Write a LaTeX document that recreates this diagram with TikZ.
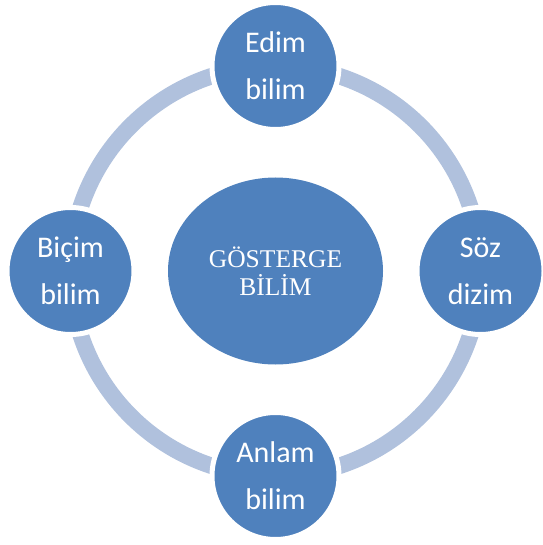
\documentclass[tikz,border=0pt]{standalone}
\usepackage{fontspec}
\setmainfont{Carlito}
\newfontfamily\titlefont{Liberation Serif}
\usetikzlibrary{shapes.geometric, calc}
\definecolor{nodeBlue}{HTML}{4F81BD}
\definecolor{ringBlue}{HTML}{B0C1DD}

\begin{document}
\begin{tikzpicture}[x=1pt, y=1pt,
    % Define the style for the four outer circles
    outerNode/.style={
        circle,
        fill=nodeBlue,
        draw=white,
        line width=5pt,
        inner sep=0pt,
        minimum size=127pt,
        text=white,
        align=center,
        font=\fontsize{30}{47}\selectfont
    },
    % Define the style for the central ellipse
    centerNode/.style={
        ellipse,
        fill=nodeBlue,
        inner sep=0pt,
        minimum width=215pt,
        minimum height=187pt,
        text=white,
        align=center,
        font=\titlefont\fontsize{25.5}{28}\selectfont
    },
    % Define the style for the ring behind the circles
    ringStyle/.style={
        draw=ringBlue,
        line width=16.5pt
    }
]
    \useasboundingbox (0,0) rectangle (542,-545);

    % --- COORDINATE DEFINITIONS ---
    % Ring Radius
    \def\ringR{205}

    % --- CENTRE ---
    \node[centerNode] (GB) at (275.5,-271) {GÖSTERGE\\BİLİM};

    % --- RING ---
    \draw[ringStyle] (GB.center) circle[radius=\ringR];

    % --- OUTER NODES ---
    % Placed at 90-degree steps, starting from the top
    \foreach \ang/\name/\first/\second in {90/edim/Edim/bilim, 0/soz/Söz/dizim, 270/anlam/Anlam/bilim, 180/bicim/Biçim/bilim} {
        \node[outerNode] (\name) at ($(GB.center)+(\ang:\ringR)$) {\first\\\second};
    }

\end{tikzpicture}
\end{document}
